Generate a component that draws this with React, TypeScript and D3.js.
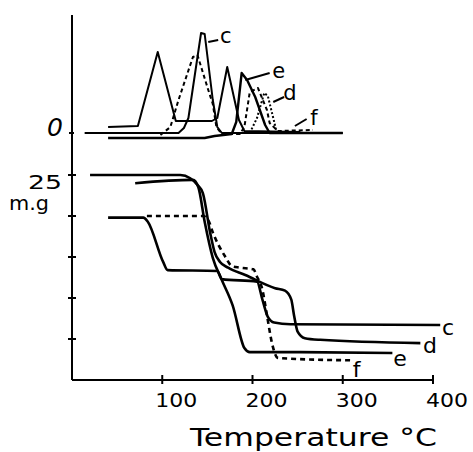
import React from "react";
import * as d3 from "d3";

const W = 473;
const H = 452;

// thermogravimetric curves: temperature (°C) against mass (mg)
const tgTempC = [40, 79, 84, 101, 106, 161, 166, 205, 211, 217, 224, 242, 408];
const tgMassC = [19.8, 19.8, 19.3, 14.4, 13.4, 13.3, 12.3, 12.0, 9.8, 7.7, 7.0, 6.8, 6.7];
const tgTempD = [20, 120, 131, 139, 145, 153, 158, 164, 173, 192, 225, 236, 243, 246, 250, 258, 275, 386];
const tgMassD = [25, 25, 24.6, 23.8, 22.8, 18.0, 15.6, 14.4, 13.7, 12.8, 11.2, 10.9, 9.8, 7.9, 5.9, 5.1, 4.9, 4.5];
const tgTempE = [70, 134, 140, 147, 156, 166, 178, 191, 197, 253, 355];
const tgMassE = [24.0, 24.4, 23.5, 19.3, 14.9, 12.2, 9.1, 3.9, 3.4, 3.4, 3.3];
const tgTempF = [83, 145, 151, 156, 170, 177, 186, 201, 205, 211, 216, 222, 228, 242, 311];
const tgMassF = [20, 20, 19.5, 18.0, 15.0, 13.9, 13.7, 13.5, 12.6, 11.0, 7.9, 4.3, 2.7, 2.6, 2.4];

// DTA traces (arbitrary units, 0 = baseline)
const dtaTempA = [40, 73, 95, 115, 155, 161, 172, 185, 191, 253];
const dtaValA = [6, 7, 81, 12, 12, 15, 66, 13, 2, 1];
const dtaTempC = [14, 118, 124, 129, 143, 147, 156, 161, 166, 300];
const dtaValC = [0, 0, 5, 15, 100, 99, 33, 6, 0, 0];
const dtaTempE = [40, 147, 158, 177, 182, 188, 194, 203, 214, 219, 300];
const dtaValE = [-5, -5, -3, -1, 11, 60, 53, 36, 8, 0, 0];
const dtaTempF = [98, 109, 118, 134, 139, 151, 156, 160, 166, 186, 191, 197, 206, 216, 219, 228, 267];
const dtaValF = [-2, 6, 33, 76, 78, 43, 29, 6, -1, -1, 6, 41, 45, 23, 10, 2, 3];
const dtaTempD = [197, 205, 213, 217, 223, 227, 253];
const dtaValD = [0, 15, 40, 37, 15, 0, 0];

const xTicks = [100, 200, 300, 400];
const massTicks = [25, 20, 15, 10, 5];

// curve labels
const tgLabels = ["c", "d", "e", "f"];
const tgLabelTemp = [410, 389, 356, 311];
const tgLabelMass = [5.5, 3.3, 1.7, 0.4];
const dtaLabels = ["c", "e", "d", "f"];
const dtaLabelTemp = [164, 222, 234, 264];
const dtaLabelVal = [90, 55, 33, 8];
const leaderT1 = [151, 192, 223, 247];
const leaderV1 = [91, 53, 31, 7];
const leaderT2 = [162, 219, 235, 260];
const leaderV2 = [93, 60, 36, 14];

const font = "DejaVu Sans";

export default function App() {
  const x = d3.scaleLinear().domain([0, 400]).range([72, 433]);
  const yMass = d3.scaleLinear().domain([0, 25]).range([380, 175]);
  const yDta = d3.scaleLinear().domain([0, 100]).range([133, 33]);

  const tgLine = d3
    .line<[number, number]>()
    .x(d => x(d[0]))
    .y(d => yMass(d[1]))
    .curve(d3.curveMonotoneX);
  const dtaLine = d3
    .line<[number, number]>()
    .x(d => x(d[0]))
    .y(d => yDta(d[1]));

  const zip = (a: number[], b: number[]) => a.map((t, i) => [t, b[i]] as [number, number]);

  const tgSeries = [
    { d: zip(tgTempC, tgMassC), dash: null },
    { d: zip(tgTempD, tgMassD), dash: null },
    { d: zip(tgTempE, tgMassE), dash: null },
    { d: zip(tgTempF, tgMassF), dash: "5,4" },
  ];
  const dtaSeries = [
    { d: zip(dtaTempA, dtaValA), dash: null, w: 2 },
    { d: zip(dtaTempC, dtaValC), dash: null, w: 2 },
    { d: zip(dtaTempE, dtaValE), dash: null, w: 2.4 },
    { d: zip(dtaTempF, dtaValF), dash: "4,3", w: 2 },
    { d: zip(dtaTempD, dtaValD), dash: "2,2", w: 2 },
  ];

  const axisX0 = x(0);
  const axisY0 = yMass(0);

  return (
    <svg width={W} height={H} style={{ position: "absolute", left: 0, top: 0, background: "#fff" }}>
      {/* axes */}
      <g stroke="#000" strokeWidth={2} fill="none">
        <line x1={axisX0} y1={15} x2={axisX0} y2={axisY0} />
        <line x1={axisX0} y1={axisY0} x2={x(400)} y2={axisY0} />
        {xTicks.map(t => (
          <line key={t} x1={x(t)} x2={x(t)} y1={axisY0 - 5} y2={axisY0 + 4} />
        ))}
        {massTicks.map(m => (
          <line key={m} x1={axisX0 - 4} x2={axisX0 + 4} y1={yMass(m)} y2={yMass(m)} />
        ))}
        <line x1={axisX0 - 3} x2={axisX0 + 2} y1={yDta(0)} y2={yDta(0)} />
      </g>

      {/* TG curves */}
      {tgSeries.map((s, i) => (
        <path key={i} d={tgLine(s.d) || ""} fill="none" stroke="#000" strokeWidth={2.6}
          strokeDasharray={s.dash || undefined} strokeLinejoin="round" />
      ))}

      {/* DTA curves */}
      {dtaSeries.map((s, i) => (
        <path key={i} d={dtaLine(s.d) || ""} fill="none" stroke="#000" strokeWidth={s.w}
          strokeDasharray={s.dash || undefined} strokeLinejoin="round" />
      ))}

      {/* leader lines */}
      <g stroke="#000" strokeWidth={2}>
        {leaderT1.map((t, i) => (
          <line key={i} x1={x(t)} y1={yDta(leaderV1[i])} x2={x(leaderT2[i])} y2={yDta(leaderV2[i])} />
        ))}
      </g>

      <g fontFamily={font} fill="#000">
        {tgLabels.map((l, i) => (
          <text key={l} x={x(tgLabelTemp[i])} y={yMass(tgLabelMass[i])} fontSize={22}>{l}</text>
        ))}
        {dtaLabels.map((l, i) => (
          <text key={l} x={x(dtaLabelTemp[i])} y={yDta(dtaLabelVal[i])} fontSize={21}>{l}</text>
        ))}
        {xTicks.map(t => (
          <text key={t} x={x(t) - 7} y={407} fontSize={19} textLength={42} lengthAdjust="spacingAndGlyphs">{t}</text>
        ))}
        <text x={28} y={189} fontSize={20} textLength={34} lengthAdjust="spacingAndGlyphs">25</text>
        <text x={9} y={210} fontSize={20} textLength={40} lengthAdjust="spacingAndGlyphs">m.g</text>
        <text x={63} y={136} fontSize={25} fontStyle="italic" textAnchor="end">0</text>
        <text x={190} y={446} fontSize={24} textLength={247} lengthAdjust="spacingAndGlyphs">Temperature °C</text>
      </g>
    </svg>
  );
}
